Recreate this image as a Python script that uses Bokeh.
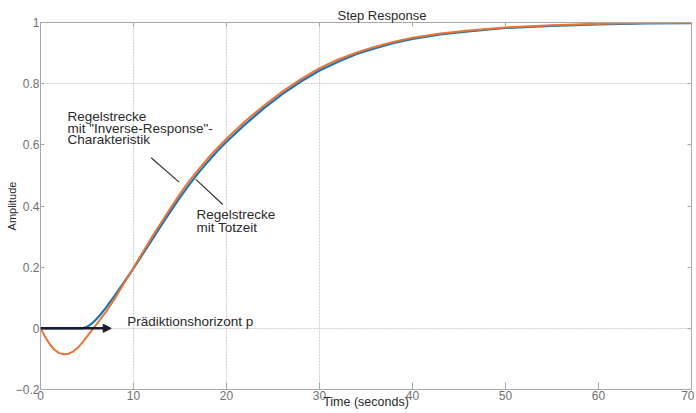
from bokeh.plotting import figure
from bokeh.models import (Range1d, LinearAxis, FixedTicker, Label, Arrow, NormalHead,
                          CustomJSTickFormatter, Title)
from bokeh.embed import file_html
from bokeh.resources import INLINE

# ---- data ----
t_inverse = [0, 0.5, 1, 1.5, 2, 2.5, 3, 3.5, 4, 4.5, 5, 5.5, 6, 7, 8, 9, 9.5, 10, 11, 12, 13,
             14, 15, 16, 17, 18, 19, 20, 22, 24, 26, 28, 30, 32, 34, 36, 38, 40, 43, 46,
             50, 55, 60, 65, 70]
y_inverse = [0, -0.028, -0.052, -0.07, -0.081, -0.085, -0.083, -0.076, -0.064, -0.047,
             -0.027, -0.007, 0.012, 0.052, 0.098, 0.148, 0.172, 0.199, 0.249, 0.299, 0.347,
             0.394, 0.44, 0.482, 0.52, 0.556, 0.589, 0.62, 0.677, 0.728, 0.774, 0.815, 0.851,
             0.879, 0.902, 0.921, 0.937, 0.95, 0.964, 0.974, 0.984, 0.991, 0.996, 0.998, 0.999]

t_deadtime = [0, 4.5, 5, 5.5, 6, 6.5, 7, 8, 9, 10, 11, 12, 13, 14, 15, 16, 17, 18, 19, 20,
              22, 24, 26, 28, 30, 32, 34, 36, 38, 40, 43, 46, 50, 55, 60, 65, 70]
y_deadtime = [0, 0, 0.005, 0.015, 0.03, 0.047, 0.066, 0.108, 0.152, 0.196, 0.243, 0.29,
              0.337, 0.383, 0.428, 0.47, 0.509, 0.545, 0.579, 0.61, 0.667, 0.719, 0.766,
              0.807, 0.843, 0.872, 0.897, 0.916, 0.933, 0.946, 0.961, 0.971, 0.982, 0.989,
              0.994, 0.997, 0.998]

x_ticks = [0, 10, 20, 30, 40, 50, 60, 70]
y_ticks = [-0.2, 0, 0.2, 0.4, 0.6, 0.8, 1]
x_grid = [10, 20, 30]
y_grid = [0, 0.8]

FONT = "Liberation Sans"
TICK_COLOR = "#707070"
FRAME_COLOR = "#a8a8a8"
TEXT_COLOR = "#2a2a2a"

p = figure(width=694, height=411, output_backend="svg", toolbar_location=None,
           x_range=Range1d(0, 70), y_range=Range1d(-0.2, 1.0),
           min_border_left=40, min_border_right=3, min_border_top=22, min_border_bottom=22,
           x_axis_location=None, y_axis_location=None)
p.outline_line_color = FRAME_COLOR
p.background_fill_color = "white"
p.border_fill_color = "white"

p.title = Title(text="Step Response", align="left", offset=297, standoff=0,
                text_font=FONT, text_font_size="13px", text_font_style="normal",
                text_color=TEXT_COLOR)

def style_axis(ax, ticks, labels=True):
    ax.ticker = FixedTicker(ticks=ticks)
    ax.axis_line_color = FRAME_COLOR
    ax.major_tick_line_color = FRAME_COLOR
    ax.major_tick_in = 4
    ax.major_tick_out = 0
    ax.minor_tick_line_color = None
    ax.major_label_text_font = FONT
    ax.major_label_text_font_size = "12px"
    ax.major_label_text_color = TICK_COLOR
    ax.major_label_standoff = 1
    ax.axis_label_text_font = FONT
    ax.axis_label_text_font_style = "normal"
    ax.axis_label_text_color = TEXT_COLOR
    if not labels:
        ax.formatter = CustomJSTickFormatter(code="return ''")
        ax.major_label_standoff = 0

bottom = LinearAxis()
top = LinearAxis()
left = LinearAxis()
right = LinearAxis()
style_axis(bottom, x_ticks, True)
style_axis(top, x_ticks, False)
style_axis(left, y_ticks, True)
style_axis(right, y_ticks, False)
bottom.major_tick_in = 7
bottom.axis_label = "Time (seconds)"
bottom.axis_label_text_font_size = "12.5px"
bottom.axis_label_standoff = -8
left.axis_label = "Amplitude"
left.axis_label_text_font_size = "11px"
left.axis_label_standoff = -5
p.add_layout(bottom, "below")
p.add_layout(top, "above")
p.add_layout(left, "left")
p.add_layout(right, "right")

p.xgrid.ticker = FixedTicker(ticks=x_grid)
p.ygrid.ticker = FixedTicker(ticks=y_grid)
for g in (p.xgrid, p.ygrid):
    g.grid_line_color = "#cfcfcf"
    g.grid_line_dash = "2 1"
    g.grid_line_width = 1

# curves
p.line(t_deadtime, y_deadtime, line_color="#1f74b0", line_width=2.2)
p.line(t_inverse, y_inverse, line_color="#e6753a", line_width=2.0)

# prediction horizon arrow
p.add_layout(Arrow(x_start=0, y_start=0, x_end=7.6, y_end=0, line_color="#1a1a2a",
                   line_width=2.5,
                   end=NormalHead(size=8, fill_color="#1a1a2a", line_color="#1a1a2a")))

# pointer lines
p.segment(x0=[11.9, 16.7], y0=[0.558, 0.487], x1=[14.9, 19.6], y1=[0.478, 0.405],
          line_color="#333333", line_width=1.2)

def lab(x, y, text, size="13.5px"):
    p.add_layout(Label(x=x, y=y, text=text, text_font=FONT, text_font_size=size,
                       text_color=TEXT_COLOR, text_align="left", text_baseline="middle"))

lab(2.9, 0.693, "Regelstrecke")
lab(2.9, 0.655, 'mit "Inverse-Response"-')
lab(2.9, 0.617, "Charakteristik")
lab(16.77, 0.372, "Regelstrecke")
lab(16.77, 0.330, "mit Totzeit")
lab(9.32, 0.022, "Prädiktionshorizont p")

open("out.html", "w").write(file_html(p, INLINE))
